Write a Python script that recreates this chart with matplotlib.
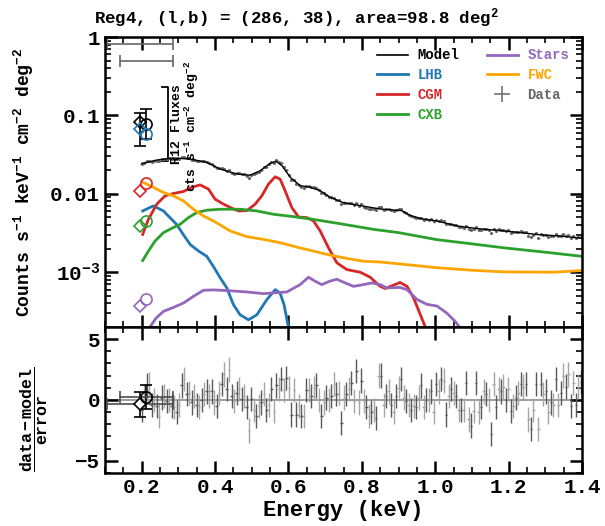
import numpy as np
import matplotlib
matplotlib.use('Agg')
import matplotlib.pyplot as plt
from matplotlib.ticker import FixedLocator, MultipleLocator, LogLocator, NullFormatter
from matplotlib.lines import Line2D

plt.rcParams['font.family'] = ['Liberation Mono', 'DejaVu Sans Mono']
plt.rcParams['font.weight'] = 'bold'
plt.rcParams['axes.labelweight'] = 'bold'
plt.rcParams['mathtext.fontset'] = 'custom'
plt.rcParams['mathtext.rm'] = 'Liberation Mono:bold'
plt.rcParams['mathtext.it'] = 'Liberation Mono:bold'
plt.rcParams['mathtext.bf'] = 'Liberation Mono:bold'
plt.rcParams['mathtext.default'] = 'regular'

# ---- model curves (energy in keV, counts s-1 keV-1 cm-2 deg-2) ----
model_E = [0.2, 0.2045, 0.241, 0.286, 0.332, 0.377, 0.414, 0.459, 0.495, 0.523, 0.55, 0.566,
           0.582, 0.605, 0.632, 0.659, 0.686, 0.714, 0.75, 0.786, 0.85, 0.909, 0.932, 0.964,
           1.005, 1.059, 1.114, 1.177, 1.232, 1.286, 1.34, 1.386, 1.397]
model_y = [0.0245, 0.0245, 0.027, 0.0286, 0.0278, 0.0252, 0.0207, 0.0179, 0.0173, 0.0197, 0.0245, 0.026,
           0.0229, 0.0162, 0.0127, 0.0121, 0.011, 0.009, 0.0077, 0.0072, 0.0064, 0.0061, 0.0053, 0.0048,
           0.0045, 0.0039, 0.0036, 0.0034, 0.0032, 0.0030, 0.0029, 0.00275, 0.00272]

lhb_E = [0.2027, 0.2318, 0.259, 0.277, 0.295, 0.313, 0.332, 0.355, 0.377, 0.395, 0.414, 0.432,
         0.45, 0.468, 0.491, 0.514, 0.541, 0.564, 0.577, 0.588, 0.6, 0.61]
lhb_y = [0.00605, 0.00702, 0.00605, 0.00497, 0.00408, 0.00304, 0.00226, 0.00186, 0.0016, 0.00119, 0.000846, 0.00063,
         0.000385, 0.000287, 0.000247, 0.000287, 0.000447, 0.0006, 0.000543, 0.000385, 0.000195, 0.00012]

cgm_E = [0.2027, 0.2182, 0.241, 0.2636, 0.2864, 0.3136, 0.3364, 0.3591, 0.3818, 0.4, 0.423, 0.4455,
         0.4636, 0.4864, 0.5091, 0.5273, 0.5455, 0.5636, 0.5773, 0.5909, 0.6091, 0.6273, 0.65, 0.6682,
         0.6864, 0.7091, 0.7318, 0.7591, 0.7955, 0.8227, 0.85, 0.864, 0.885, 0.904, 0.923, 0.941,
         0.959, 0.977, 0.99]
cgm_y = [0.00304, 0.00473, 0.00738, 0.00942, 0.0101, 0.0107, 0.0121, 0.0130, 0.0115, 0.00855, 0.00738, 0.00655,
         0.00605, 0.0061, 0.00738, 0.00942, 0.0133, 0.0165, 0.0154, 0.0109, 0.00668, 0.00507, 0.00497, 0.00451,
         0.00336, 0.00205, 0.00132, 0.00108, 0.001, 0.000863, 0.00066, 0.00062, 0.00068, 0.00074, 0.00066, 0.00047,
         0.00029, 0.00018, 0.00012]

cxb_E = [0.2027, 0.2182, 0.2364, 0.259, 0.2818, 0.3045, 0.3273, 0.35, 0.3773, 0.4136, 0.4682, 0.5136,
         0.5591, 0.6136, 0.6682, 0.7227, 0.7773, 0.8318, 0.9, 1.005, 1.1, 1.186, 1.3, 1.397]
cxb_y = [0.00141, 0.00186, 0.0025, 0.00319, 0.00363, 0.00408, 0.00497, 0.00577, 0.00618, 0.00636, 0.00636, 0.00605,
         0.00548, 0.00512, 0.00471, 0.00429, 0.00389, 0.00352, 0.0032, 0.0026, 0.0023, 0.00205, 0.0018, 0.0016]

fwc_E = [0.2045, 0.2318, 0.259, 0.2864, 0.3136, 0.3409, 0.3682, 0.3955, 0.441, 0.4864, 0.5318, 0.5773,
         0.6227, 0.6682, 0.7136, 0.7591, 0.8045, 0.85, 0.9, 1.005, 1.1, 1.186, 1.323, 1.397]
fwc_y = [0.01396, 0.0121, 0.0104, 0.00942, 0.00813, 0.00636, 0.00522, 0.00451, 0.00336, 0.00284, 0.00262, 0.00238,
         0.00209, 0.00186, 0.00165, 0.0015, 0.00138, 0.00135, 0.00128, 0.00114, 0.00106, 0.00101, 0.001, 0.00105]

stars_E = [0.2209, 0.2391, 0.259, 0.2864, 0.3136, 0.3409, 0.3682, 0.3955, 0.441, 0.4864, 0.5318, 0.5955,
           0.6318, 0.6545, 0.6727, 0.6909, 0.7118, 0.7318, 0.7545, 0.7773, 0.8045, 0.8273, 0.85, 0.868,
           0.904, 0.923, 0.95, 0.977, 1.005, 1.032, 1.055, 1.073]
stars_y = [0.000195, 0.00026, 0.000316, 0.000356, 0.000404, 0.000492, 0.000588, 0.000595, 0.00058, 0.00056, 0.000533, 0.00056,
           0.000695, 0.000863, 0.000767, 0.000695, 0.000767, 0.000813, 0.00073, 0.00066, 0.000695, 0.00073, 0.000695, 0.00063,
           0.00064, 0.0006, 0.00045, 0.00039, 0.00037, 0.0003, 0.000234, 0.00018]

# ---- binned spectrum ----
data_counts = [
    0.0239, 0.0249, 0.0261, 0.0266, 0.0257, 0.0265, 0.0266, 0.0262, 0.0278, 0.0282,
    0.0281, 0.0284, 0.0282, 0.0281, 0.0276, 0.0281, 0.0293, 0.0295, 0.0284, 0.0283,
    0.0274, 0.0274, 0.0265, 0.0259, 0.0260, 0.0260, 0.0257, 0.0245, 0.0240, 0.0226,
    0.0216, 0.0215, 0.0212, 0.0209, 0.0198, 0.0202, 0.0187, 0.0181, 0.0182, 0.0183,
    0.0177, 0.0177, 0.0171, 0.0160, 0.0176, 0.0178, 0.0182, 0.0192, 0.0200, 0.0217,
    0.0223, 0.0237, 0.0257, 0.0249, 0.0269, 0.0254, 0.0244, 0.0217, 0.0200, 0.0175,
    0.0151, 0.0151, 0.0134, 0.0129, 0.0121, 0.0120, 0.0126, 0.0125, 0.0121, 0.0121,
    0.0118, 0.0111, 0.0103, 0.0101, 0.00976, 0.0092, 0.00898, 0.00894, 0.00842, 0.00825,
    0.00736, 0.00775, 0.00771, 0.0077, 0.00771, 0.00728, 0.00772, 0.00706, 0.00732, 0.00686,
    0.00666, 0.00642, 0.00638, 0.00634, 0.00614, 0.00678, 0.00676, 0.00626, 0.00636, 0.0064,
    0.00618, 0.00603, 0.00626, 0.00636, 0.00643, 0.00594, 0.00568, 0.00543, 0.00517, 0.00512,
    0.00491, 0.00493, 0.00497, 0.00467, 0.00472, 0.00468, 0.00473, 0.00444, 0.0047, 0.00455,
    0.0046, 0.00451, 0.00407, 0.00418, 0.00417, 0.00405, 0.00395, 0.00378, 0.00374, 0.0037,
    0.00391, 0.00353, 0.00345, 0.00355, 0.00377, 0.00348, 0.0035, 0.00361, 0.00357, 0.0035,
    0.00319, 0.0036, 0.00338, 0.00351, 0.00347, 0.00348, 0.00335, 0.00341, 0.00321, 0.00322,
    0.00327, 0.00328, 0.00332, 0.00326, 0.00325, 0.00294, 0.00284, 0.00296, 0.00313, 0.00277,
    0.00309, 0.00299, 0.003, 0.00284, 0.0029, 0.00288, 0.00305, 0.00287, 0.00294, 0.00304,
    0.00293, 0.003, 0.00276, 0.0029, 0.00273, 0.00283, 0.00284]

residuals = [
    -0.8, 0.3, 1.2, 1.3, -0.4, 0.0, -0.5, -1.3, 0.2, 0.3, -0.1, 0.0, -0.5, -0.6, -1.0, -0.4,
    1.2, 1.7, 0.5, 0.6, -0.2, 0.3, -0.4, -0.6, 0.0, 0.5, 0.7, 0.3, 0.7, -0.2, -0.5, 0.6,
    1.3, 2.1, 0.9, 2.5, 0.3, -0.1, 0.6, 0.9, 0.1, 0.3, -0.6, -2.5, 0.1, -0.8, -1.3, -0.5,
    -0.2, 0.5,
    -0.8, -0.4, 0.9, -0.9, 1.2, 0.9, 1.7, 0.8, 1.8, 1.0, -1.2, 0.8, -1.2, -0.5, -1.3, -1.3,
    0.8, 0.8, 0.3, 1.0, 1.2, 0.0, -1.3, -0.2, 0.2, 0.0, 0.3, 1.3, 0.5, 0.6, -1.9, 0.2,
    0.5, 0.9, 1.4, -0.1, 2.4, -0.2, 1.6, -0.1, -0.6, -1.3, -1.0, -0.8, -1.5, 2.0, 2.0, -0.4,
    0.3, 0.7, -0.4, -1.0, 0.3, 1.0, 1.7, 0.2, -0.1, -0.4, -0.8, -0.5, -0.6, 0.2, 1.2, -0.6,
    0.0,
    0.0, 0.7, -1.0, 1.3, 0.7, 1.7, 1.6, -1.2, 0.3, 0.9, 0.6, 0.3, -0.8, -0.8, -0.8, 1.4,
    -1.6, -2.1, -0.9, 1.4, -1.0, -0.6, 0.7, 0.5, 0.0, -2.8, 1.3, -0.6, 0.9, 0.7, 1.1, 0.0,
    0.9, -0.9, -0.5, 0.2, 0.6, 1.3, 1.1, 1.3, -1.6, -2.4, -0.8, 1.3, -2.4, 1.3, 0.5, 0.7,
    -1.0, -0.2, -0.4, 1.7, -0.4, 0.6, 2.0, 1.1, 2.1, -0.5, 1.4, -0.4, 1.1, 1.5]

data_E = np.linspace(0.2, 1.3968, len(residuals))
bin_half = 0.0034
data_rel_err = 0.03

# ---- R12 band fluxes: [total, LHB, CGM, CXB, Stars] ----
r12_colors = ['black', 'tab:blue', 'tab:red', 'tab:green', 'tab:purple']
r12_diamond_E = 0.195
r12_circle_E = 0.2125
r12_diamond = [0.082, 0.068, 0.011, 0.0039, 0.00037]
r12_circle = [0.078, 0.058, 0.0136, 0.0045, 0.00046]
r12_diamond_err = [[0.041], [0.025]]
r12_circle_err = [[0.028], [0.044]]
r12_diamond_band = [0.105, 0.285]
r12_circle_band = [0.14, 0.285]
r12_diamond_res = -0.36
r12_circle_res = 0.25

fig = plt.figure(figsize=(6.05, 5.26), dpi=100)
ax1 = fig.add_axes([0.1736, 0.3783, 0.7884, 0.5513])
ax2 = fig.add_axes([0.1736, 0.1008, 0.7884, 0.2776], sharex=ax1)

# top panel
ax1.errorbar(data_E, data_counts, yerr=np.array(data_counts) * data_rel_err, xerr=bin_half,
             fmt='.', ms=2.5, color='0.4', elinewidth=0.7, capsize=0, zorder=2)
ax1.plot(model_E, model_y, color='black', lw=1.0, zorder=3)
ax1.plot(lhb_E, lhb_y, color='tab:blue', lw=2)
ax1.plot(cgm_E, cgm_y, color='tab:red', lw=2)
ax1.plot(cxb_E, cxb_y, color='tab:green', lw=2)
ax1.plot(stars_E, stars_y, color='tab:purple', lw=2)
ax1.plot(fwc_E, fwc_y, color='orange', lw=2)

for c, vd, vc in zip(r12_colors, r12_diamond, r12_circle):
    ax1.plot(r12_diamond_E, vd, 'D', ms=6.5, mfc='none', mec=c, mew=1.2, zorder=5)
    ax1.plot(r12_circle_E, vc, 'o', ms=8, mfc='none', mec=c, mew=1.2, zorder=5)
ax1.errorbar(r12_diamond_E, r12_diamond[0], yerr=r12_diamond_err, fmt='none',
             ecolor='black', elinewidth=1.2, capsize=4, capthick=1.2)
ax1.errorbar(r12_circle_E, r12_circle[0], yerr=r12_circle_err, fmt='none',
             ecolor='black', elinewidth=1.2, capsize=4, capthick=1.2)

# energy bands of the R12 fluxes
for band, yv in [(r12_diamond_band, 0.81), (r12_circle_band, 0.5)]:
    mid = 0.5 * (band[0] + band[1])
    ax1.errorbar(mid, yv, xerr=0.5 * (band[1] - band[0]), fmt='none', ecolor='0.4',
                 elinewidth=1.2, capsize=4, capthick=1.2)

# bracket with label
ax1.plot([0.255, 0.2727, 0.2727, 0.255], [0.23, 0.23, 0.0266, 0.0266], color='black', lw=1.3)
ax1.text(0.295, 0.078, 'R12 Fluxes', rotation=90, ha='center', va='center', fontsize=9.5)
ax1.text(0.337, 0.072, 'cts s$^{-1}$ cm$^{-2}$ deg$^{-2}$', rotation=90, ha='center', va='center',
         fontsize=9.5)

ax1.set_yscale('log')
ax1.set_ylim(2e-4, 1)
ax1.set_xlim(0.1, 1.4)
ax1.yaxis.set_major_locator(FixedLocator([1e-3, 1e-2, 1e-1, 1]))
ax1.set_yticklabels(['$10^{-3}$', '0.01', '0.1', '1'])
ax1.yaxis.set_minor_locator(LogLocator(base=10, subs=np.arange(2, 10)))
ax1.yaxis.set_minor_formatter(NullFormatter())
ax1.tick_params(axis='x', labelbottom=False)
ax1.set_ylabel('Counts s$^{-1}$ keV$^{-1}$ cm$^{-2}$ deg$^{-2}$', fontsize=13)
ax1.yaxis.set_label_coords(-0.145, 0.5)

handles = [Line2D([], [], color='black', lw=1.2), Line2D([], [], color='tab:blue', lw=2),
           Line2D([], [], color='tab:red', lw=2), Line2D([], [], color='tab:green', lw=2),
           Line2D([], [], color='tab:purple', lw=2), Line2D([], [], color='orange', lw=2),
           Line2D([], [], color='0.45', marker='+', ms=12, ls='none', mew=1.2)]
labels = ['Model', 'LHB', 'CGM', 'CXB', 'Stars', 'FWC', 'Data']
text_colors = ['black', 'tab:blue', 'tab:red', 'tab:green', 'tab:purple', 'orange', '0.4']
leg = ax1.legend(handles, labels, ncol=2, loc='upper right', bbox_to_anchor=(0.985, 0.98),
                 frameon=False, fontsize=10, handlelength=2.2, handletextpad=0.7,
                 columnspacing=2.0, labelspacing=0.42, borderaxespad=0)
for t, c in zip(leg.get_texts(), text_colors):
    t.set_color(c)

# residual panel
ax2.axhline(0, color='0.55', lw=1.2, zorder=1)
res_colors = ['0.35' if i % 2 == 0 else '0.65' for i in range(len(residuals))]
for e, r, c in zip(data_E, residuals, res_colors):
    ax2.errorbar(e, r, yerr=1.0, xerr=bin_half, fmt='none', ecolor=c, elinewidth=1.0, capsize=0)

ax2.errorbar(r12_diamond_E, r12_diamond_res, yerr=1.0, fmt='none', ecolor='black',
             elinewidth=1.2, capsize=4, capthick=1.2, zorder=4)
ax2.errorbar(r12_circle_E, r12_circle_res, yerr=1.0, fmt='none', ecolor='black',
             elinewidth=1.2, capsize=4, capthick=1.2, zorder=4)
for band, yv in [(r12_diamond_band, r12_diamond_res), (r12_circle_band, r12_circle_res)]:
    mid = 0.5 * (band[0] + band[1])
    ax2.errorbar(mid, yv, xerr=0.5 * (band[1] - band[0]), fmt='none', ecolor='0.3',
                 elinewidth=1.2, capsize=4, capthick=1.2, zorder=4)
ax2.plot(r12_diamond_E, r12_diamond_res, 'D', ms=6.5, mfc='white', mec='black', mew=1.2, zorder=5)
ax2.plot(r12_circle_E, r12_circle_res, 'o', ms=8, mfc='none', mec='black', mew=1.2, zorder=5)

ax2.set_ylim(-6, 6)
ax2.yaxis.set_major_locator(FixedLocator([-5, 0, 5]))
ax2.yaxis.set_minor_locator(MultipleLocator(1))
ax2.xaxis.set_major_locator(FixedLocator([0.2, 0.4, 0.6, 0.8, 1.0, 1.2, 1.4]))
ax2.xaxis.set_minor_locator(MultipleLocator(0.05))
ax2.set_xticklabels(['0.2', '0.4', '0.6', '0.8', '1.0', '1.2', '1.4'])
ax2.set_xlabel('Energy (keV)', fontsize=16, labelpad=2)
ax2.set_ylabel(r'$\dfrac{\mathrm{data-model}}{\mathrm{error}}$', fontsize=12)
ax2.yaxis.set_label_coords(-0.115, 0.37)

for ax in (ax1, ax2):
    ax.tick_params(which='both', direction='in', top=True, right=True, labelsize=15)
    ax.tick_params(which='major', length=9, width=1.8)
    ax.tick_params(which='minor', length=4.5, width=1.2)
    for s in ax.spines.values():
        s.set_linewidth(1.8)

fig.text(0.49, 0.965, 'Reg4, (l,b) = (286, 38), area=98.8 deg$^2$', ha='center', va='center',
         fontsize=12.5)

fig.savefig('out.png', dpi=100)
